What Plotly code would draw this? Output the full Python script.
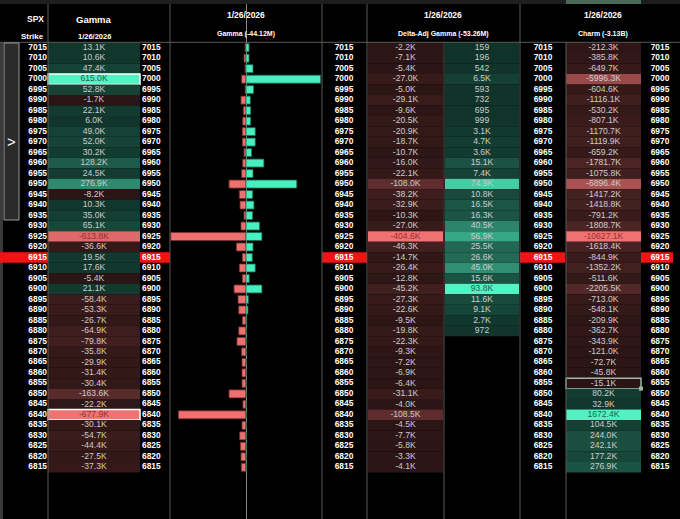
import plotly.graph_objects as go

# strikes shown in the ladder, top to bottom
strikes = [7015, 7010, 7005, 7000, 6995, 6990, 6985, 6980, 6975, 6970,
           6965, 6960, 6955, 6950, 6945, 6940, 6935, 6930, 6925, 6920,
           6915, 6910, 6905, 6900, 6895, 6890, 6885, 6880, 6875, 6870,
           6865, 6860, 6855, 6850, 6845, 6840, 6835, 6830, 6825, 6820, 6815]
spot_strike = 6915
selected_gamma = [7000, 6840]
selected_charm = 6855
expiry = "1/26/2026"

# net gamma per strike (K)
gamma = [13.1, 10.6, 47.4, 615.0, 52.8, -1.7, 22.1, 6.0, 49.0, 52.0,
         30.2, 128.2, 24.5, 276.9, -8.2, 10.3, 35.0, 65.1, -613.8, -36.6,
         19.5, 17.6, -5.4, 21.1, -58.4, -53.3, -26.7, -64.9, -79.8, -35.8,
         -29.9, -31.4, -30.4, -163.6, -22.2, -677.9, -30.1, -54.7, -44.4, -27.5, -37.3]

# call / put gamma bars (K)
gamma_calls = [26, 26, 60, 638, 65, 37, 40, 40, 79, 79,
               48, 153, 60, 434, 57, 68, 57, 116, 136, 60,
               54, 79, 28, 136, 20, 17, 6, 1, 0, 0,
               0, 0, 0, 0, 0, 0, 0, 0, 0, 0, 0]
gamma_puts = [-8, -17, -8, -37, -8, -43, -23, -28, -31, -31,
              -17, -28, -37, -145, -57, -51, -17, -43, -643, -82,
              -31, -57, -31, -102, -68, -62, -31, -62, -77, -37,
              -34, -34, -34, -145, -26, -578, -34, -54, -48, -43, -40]

# delta-adjusted gamma, negative and positive legs (K)
dag_neg = [-2.2, -7.1, -5.4, -27.0, -5.0, -29.1, -9.6, -20.5, -20.9, -18.7,
           -10.7, -16.0, -22.1, -108.0, -38.2, -32.9, -10.3, -27.0, -404.6, -46.3,
           -14.7, -26.4, -12.8, -45.2, -27.3, -22.6, -9.5, -19.8, -22.3, -9.3,
           -7.2, -6.9, -6.4, -31.1, -4.0, -108.5, -4.5, -7.7, -5.8, -3.3, -4.1]
dag_pos = [0.159, 0.196, 0.542, 6.5, 0.593, 0.732, 0.695, 0.999, 3.1, 4.7,
           3.6, 15.1, 7.4, 74.9, 10.8, 16.5, 16.3, 40.5, 56.9, 25.5,
           26.6, 45.0, 15.6, 93.8, 11.6, 9.1, 2.7, 0.972, None, None,
           None, None, None, None, None, None, None, None, None, None, None]

# charm per strike (K)
charm = [-212.3, -385.8, -649.7, -5996.3, -604.6, -1116.1, -530.2, -807.1, -1170.7, -1119.9,
         -659.2, -1781.7, -1075.8, -6896.4, -1417.2, -1418.8, -791.2, -1808.7, -10627.1, -1618.4,
         -844.9, -1352.2, -511.6, -2205.5, -713.0, -548.1, -209.9, -362.7, -343.9, -121.0,
         -72.7, -45.8, -15.1, 80.2, 32.9, 1672.4, 104.5, 244.0, 242.1, 177.2, 276.9]

W, H = 680, 519
FONT = "Liberation Sans, Arial, sans-serif"
GREEN_LO, GREEN_HI = (16, 51, 41), (82, 242, 194)
RED_LO, RED_HI = (42, 20, 20), (240, 114, 114)
TXT = "#cbcbcb"


def py(p):
    # pixel row -> paper fraction
    return 1 - p / H


def mix(a, b, t):
    t = max(0.0, min(1.0, t))
    return "rgb(%d,%d,%d)" % tuple(round(a[i] + (b[i] - a[i]) * t) for i in range(3))


def fmt(v):
    if abs(v) < 1:
        return str(round(v * 1000))
    return f"{v:.1f}K"


def cell_style(vals):
    pos = max([v for v in vals if v is not None and v > 0] or [1])
    neg = -min([v for v in vals if v is not None and v < 0] or [-1])
    fills, txt = [], []
    for v in vals:
        if v >= 0:
            t = v / pos
            fills.append(mix(GREEN_LO, GREEN_HI, t))
            txt.append("#17664f" if t > 0.85 else TXT)
        else:
            t = -v / neg
            fills.append(mix(RED_LO, RED_HI, t))
            txt.append("#9a3030" if t > 0.85 else TXT)
    return fills, txt


fig = go.Figure()


def add_cells(x0, x1, vals, selected=(), sel_color="#ffffff"):
    ys = [s for s, v in zip(strikes, vals) if v is not None]
    vs = [v for v in vals if v is not None]
    fills, txt = cell_style(vs)
    lw = [1.5 if s in selected else 0 for s in ys]
    fig.add_trace(go.Bar(
        y=ys, x=[x1 - x0] * len(ys), base=x0, orientation="h", width=5,
        marker=dict(color=fills, line=dict(color=sel_color, width=lw)),
        hoverinfo="skip", showlegend=False))
    fig.add_trace(go.Scatter(
        y=ys, x=[(x0 + x1) / 2] * len(ys), mode="text", text=[fmt(v) for v in vs],
        textfont=dict(family=FONT, size=8.6, color=txt),
        hoverinfo="skip", showlegend=False))


def add_strikes(x, pos, x0, x1):
    # red band on the spot row
    fig.add_trace(go.Bar(
        y=[spot_strike], x=[x1 - x0], base=x0, orientation="h", width=5,
        marker=dict(color="#f01414", line_width=0), hoverinfo="skip", showlegend=False))
    fig.add_trace(go.Scatter(
        y=strikes, x=[x] * len(strikes), mode="text", text=[str(s) for s in strikes],
        textposition=pos, textfont=dict(family=FONT, size=8.4, color="#ffffff", weight="bold"),
        hoverinfo="skip", showlegend=False))


# strike columns
add_strikes(47, "middle left", 0, 48)
add_strikes(142, "middle right", 140, 170)
add_strikes(344, "middle center", 322, 367)
add_strikes(543, "middle center", 520, 565)
add_strikes(660, "middle center", 641, 673)

# heat cells
add_cells(48, 140, gamma, selected=selected_gamma)
add_cells(368, 443, dag_neg)
add_cells(445, 519, dag_pos)
add_cells(566, 641, charm, selected=[selected_charm], sel_color="#9fb8a8")

# selection handle on the charm cell
fig.add_trace(go.Scatter(
    x=[641], y=[selected_charm - 2.5], mode="markers",
    marker=dict(symbol="square", size=4, color="#9fb8a8"),
    hoverinfo="skip", showlegend=False))

# call / put gamma bars
fig.add_trace(go.Bar(
    y=strikes, x=gamma_puts, orientation="h", width=3.8, xaxis="x2", yaxis="y",
    marker=dict(color="#f07070", line=dict(color="#7a3030", width=0.8)),
    hoverinfo="skip", showlegend=False))
fig.add_trace(go.Bar(
    y=strikes, x=gamma_calls, orientation="h", width=3.8, xaxis="x2", yaxis="y",
    marker=dict(color="#48f0c0", line=dict(color="#1b6a54", width=0.8)),
    hoverinfo="skip", showlegend=False))

# sheet chrome
shapes = []
for x, top in [(48, 0), (170, 0), (322, 0), (367, 0), (444, 42), (520, 0), (566, 42)]:
    shapes.append(dict(type="line", xref="x", yref="paper", x0=x, x1=x,
                       y0=0, y1=py(top), line=dict(color="#5a5a5a", width=1)))
shapes += [
    dict(type="line", xref="paper", yref="paper", x0=0, x1=1, y0=py(42.3), y1=py(42.3),
         line=dict(color="#5a5a5a", width=1)),
    dict(type="rect", xref="paper", yref="paper", x0=0, x1=1, y0=py(4), y1=1,
         fillcolor="#1e1e1e", line_width=0),
    dict(type="rect", xref="x", yref="paper", x0=566, x1=641, y0=py(4), y1=1,
         fillcolor="#4b6b5a", line_width=0),
    dict(type="rect", xref="x", yref="paper", x0=0, x1=3, y0=0, y1=py(42.3),
         fillcolor="#3a3a3a", line_width=0, layer="below"),
    dict(type="rect", xref="x", yref="paper", x0=4, x1=19, y0=py(220), y1=py(43),
         fillcolor="#2b2b2b", line=dict(color="#9a9a9a", width=1)),
]

ann = []


def label(text, x, y, size, anchor="center"):
    ann.append(dict(text=f"<b>{text}</b>", x=x, y=py(y), xref="x", yref="paper",
                    xanchor=anchor, yanchor="middle", showarrow=False,
                    font=dict(family=FONT, size=size, color="#ffffff")))


label("SPX", 46, 19, 8.5, "right")
label("Strike", 46, 37, 8, "right")
label("Gamma", 94, 19, 9.5)
label(expiry, 94, 37, 7.5)
label(expiry, 246, 15, 8.5)
label("Gamma (-44.12M)", 246, 34, 7)
label(expiry, 443, 15, 8.5)
label("Delta-Adj Gamma (-53.26M)", 443, 34, 7)
label(expiry, 603, 15, 8.5)
label("Charm (-3.13B)", 603, 34, 7)
ann.append(dict(text=">", x=11.5, y=py(131), xref="x", yref="paper", showarrow=False,
                font=dict(family=FONT, size=15, color="#ffffff")))

fig.update_layout(
    width=W, height=H,
    margin=dict(l=0, r=0, t=0, b=0),
    paper_bgcolor="#000000", plot_bgcolor="#000000",
    barmode="overlay", showlegend=False,
    xaxis=dict(domain=[0, 1], range=[0, W], visible=False, fixedrange=True),
    xaxis2=dict(domain=[170 / W, 322 / W], range=[-650, 650], anchor="y",
                showgrid=False, showticklabels=False, ticks="",
                zeroline=True, zerolinecolor="#8a8a8a", zerolinewidth=1, fixedrange=True),
    yaxis=dict(domain=[0, 1], range=[6790.36, 7037.73], visible=False, fixedrange=True),
    shapes=shapes, annotations=ann,
)

# page has a default body margin; drop it so the sheet sits flush in the window
fig.write_html("out.html", config={"displayModeBar": False},
               post_script="document.body.style.margin='0';"
                           "document.body.style.background='#000';"
                           "document.body.style.overflow='hidden';")
